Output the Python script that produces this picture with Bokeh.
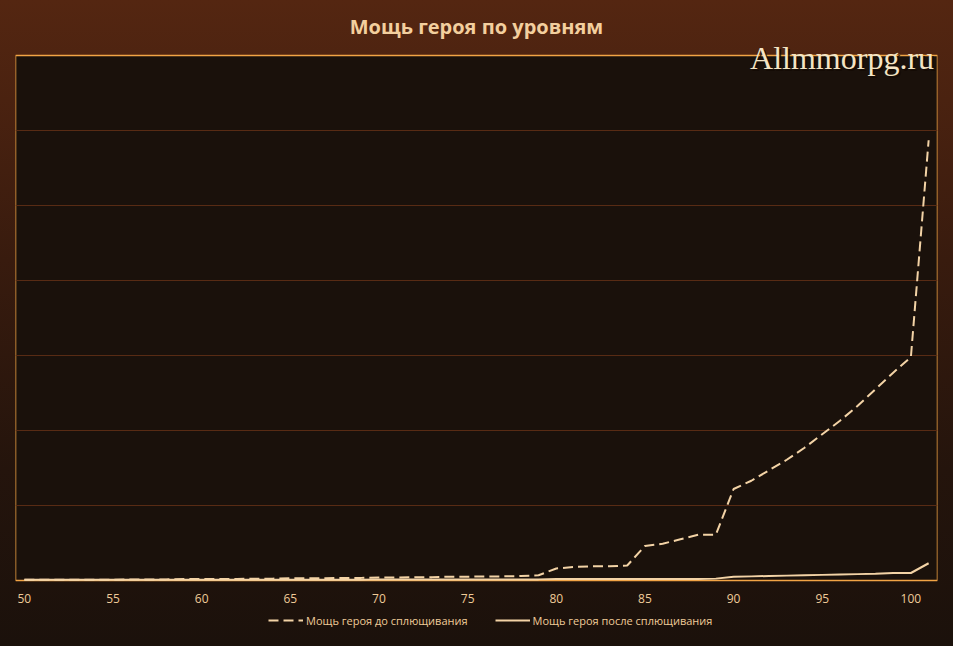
from bokeh.plotting import figure
from bokeh.models import Label, Legend, LegendItem, FixedTicker, Range1d, BoxAnnotation, ColumnDataSource
from bokeh.core.properties import value
from bokeh.embed import file_html
from bokeh.resources import INLINE

levels = list(range(50, 102))
before = [0.01, 0.01, 0.01, 0.01, 0.01, 0.01, 0.015, 0.015, 0.015, 0.02,
          0.02, 0.02, 0.02, 0.025, 0.025, 0.03, 0.03, 0.03, 0.035, 0.035,
          0.04, 0.04, 0.045, 0.045, 0.05, 0.05, 0.055, 0.055, 0.06, 0.07,
          0.16, 0.18, 0.19, 0.19, 0.2, 0.46, 0.49, 0.55, 0.61, 0.61,
          1.22, 1.33, 1.47, 1.61, 1.77, 1.95, 2.13, 2.33, 2.55, 2.77,
          2.98, 5.87]
after = [0.01, 0.01, 0.01, 0.01, 0.01, 0.01, 0.01, 0.01, 0.01, 0.01,
         0.01, 0.01, 0.01, 0.01, 0.01, 0.01, 0.01, 0.01, 0.01, 0.01,
         0.015, 0.015, 0.015, 0.015, 0.015, 0.015, 0.015, 0.015, 0.015, 0.015,
         0.02, 0.02, 0.02, 0.02, 0.02, 0.02, 0.02, 0.02, 0.02, 0.025,
         0.05, 0.055, 0.06, 0.065, 0.07, 0.075, 0.08, 0.085, 0.09, 0.1,
         0.1, 0.23]
x_ticks = [50, 55, 60, 65, 70, 75, 80, 85, 90, 95, 100]
x_tick_labels = ["50", "55", "60", "65", "70", "75", "80", "85", "90", "95", "100"]
grid_ticks = [1, 2, 3, 4, 5, 6]
title_text = "Мощь героя по уровням"
name_before = "Мощь героя до сплющивания"
name_after = "Мощь героя после сплющивания"
watermark = "Allmmorpg.ru"

LINE = "#f3d3a6"
TXT = "#efcb98"

PX = 75.0  # pixels per value unit
X_MIN, X_MAX = 49.5, 101.5
Y_MAX = 7.0

p = figure(frame_width=922, frame_height=646, output_backend="svg", toolbar_location=None,
           x_range=Range1d(X_MIN, X_MAX), y_range=Range1d(-66 / PX, 580 / PX),
           min_border_left=15, min_border_right=16, min_border_top=0, min_border_bottom=0)
p.styles = {"background": "linear-gradient(to bottom, #542611 0px, #4a2210 100px, #381b0e 260px, #24140c 470px, #1b110b 646px)"}
p.border_fill_color = None
p.background_fill_color = None
p.outline_line_color = None
p.title.visible = False
p.xaxis.visible = False
p.yaxis.visible = False

box = BoxAnnotation(left=X_MIN, right=X_MAX, bottom=0, top=Y_MAX,
                    fill_color="#1a110b", fill_alpha=1.0,
                    line_color="#f2a445", line_alpha=1.0, line_width=1.5, level="image")
p.add_layout(box)

p.xgrid.grid_line_color = None
p.ygrid.ticker = FixedTicker(ticks=grid_ticks)
p.ygrid.grid_line_color = "#582b14"
p.ygrid.grid_line_width = 1

# x tick labels under the plot box
tick_src = ColumnDataSource(dict(x=x_ticks, y=[-18 / PX] * len(x_ticks), t=x_tick_labels))
p.text(x="x", y="y", text="t", source=tick_src, text_font=value("Open Sans"),
       text_font_size="12px", text_color=TXT, text_align="center", text_baseline="middle")

r1 = p.line(levels, before, line_color=LINE, line_width=2.0, line_dash="10 5")
r2 = p.line(levels, after, line_color=LINE, line_width=2.0)

legend = Legend(items=[LegendItem(label=name_before, renderers=[r1]),
                       LegendItem(label=name_after, renderers=[r2])],
                orientation="horizontal", location=(253, 16),
                background_fill_alpha=0, border_line_color=None,
                label_text_color=TXT, label_text_font="Open Sans",
                label_text_font_size="11px", glyph_width=35, label_standoff=3,
                spacing=27, margin=0, padding=4)
p.add_layout(legend)

title = Label(x=75.5, y=(580 - 25.5) / PX, text=title_text, text_font="Open Sans",
              text_font_size="20px", text_font_style="bold", text_color="#f3cf9e",
              text_align="center", text_baseline="middle")
p.add_layout(title)

shadow = Label(x=90.93, y=6.973, text=watermark, text_font="Liberation Serif",
               text_font_size="32px", text_color="#140a04", text_alpha=0.85,
               x_offset=2, y_offset=-2, text_baseline="alphabetic")
p.add_layout(shadow)
wm = Label(x=90.93, y=6.973, text=watermark, text_font="Liberation Serif",
           text_font_size="32px", text_color="#f4e4c4", text_baseline="alphabetic")
p.add_layout(wm)

open("out.html", "w").write(file_html(p, INLINE))
